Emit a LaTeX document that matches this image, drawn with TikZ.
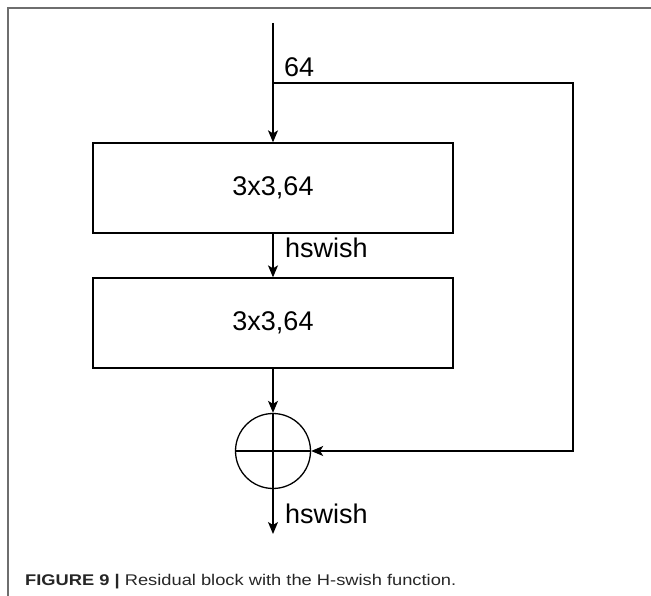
\documentclass[tikz,border=0pt]{standalone}
\usepackage{fontspec}
\setmainfont{Liberation Sans}
\usetikzlibrary{arrows.meta}
\definecolor{Frame}{RGB}{110,110,110}

\begin{document}
\begin{tikzpicture}[x=1pt,y=-1pt,line cap=butt,line join=miter,
  box/.style={draw,line width=1.3pt,minimum width=360pt,minimum height=90pt,inner sep=0pt,font=\fontsize{27}{30}\selectfont},
  addop/.style={circle,draw,line width=1.3pt,minimum size=75pt,inner sep=0pt},
  lbl/.style={anchor=west,inner sep=0pt,font=\fontsize{27}{30}\selectfont},
  arr/.style={line width=1.3pt,-{Stealth[length=12pt,width=10pt,inset=3pt]}},
  wire/.style={line width=1.3pt}]
\path[use as bounding box] (0,0) rectangle (651,596);
% frame
\draw[Frame,line width=1.3pt] (8,596) -- (8,8) -- (651,8);
% blocks
\node[box] (conv1) at (273,188) {3x3,64};
\node[box] (conv2) at (273,323) {3x3,64};
\node[addop] (add) at (273,451) {};
\coordinate (in) at (273,23);
\coordinate (split) at (273,83);
\coordinate (skipa) at (573,83);
\coordinate (skipb) at (573,451);
\coordinate (out) at (273,534);
% connectors
\draw[arr] (in) -- (conv1);
\draw[arr] (conv1) -- (conv2);
\draw[arr] (conv2) -- (add);
\draw[arr] (add) -- (out);
\draw[arr] (split) -- (skipa) -- (skipb) -- (add);
\draw[wire] (add.west) -- (add.east);
\draw[wire] (add.north) -- (add.south);
% labels
\node[lbl] (w64) at (284,67.5) {64};
\node[lbl] (act1) at (285,248) {hswish};
\node[lbl] (act2) at (285,514) {hswish};
\node[anchor=west,inner sep=0pt,xscale=1.18,transform shape,font=\fontsize{15.5}{17}\selectfont,text=black!85] (cap) at (25,581.5) {\textbf{FIGURE 9 |} Residual block with the H-swish function.};
\end{tikzpicture}
\end{document}
